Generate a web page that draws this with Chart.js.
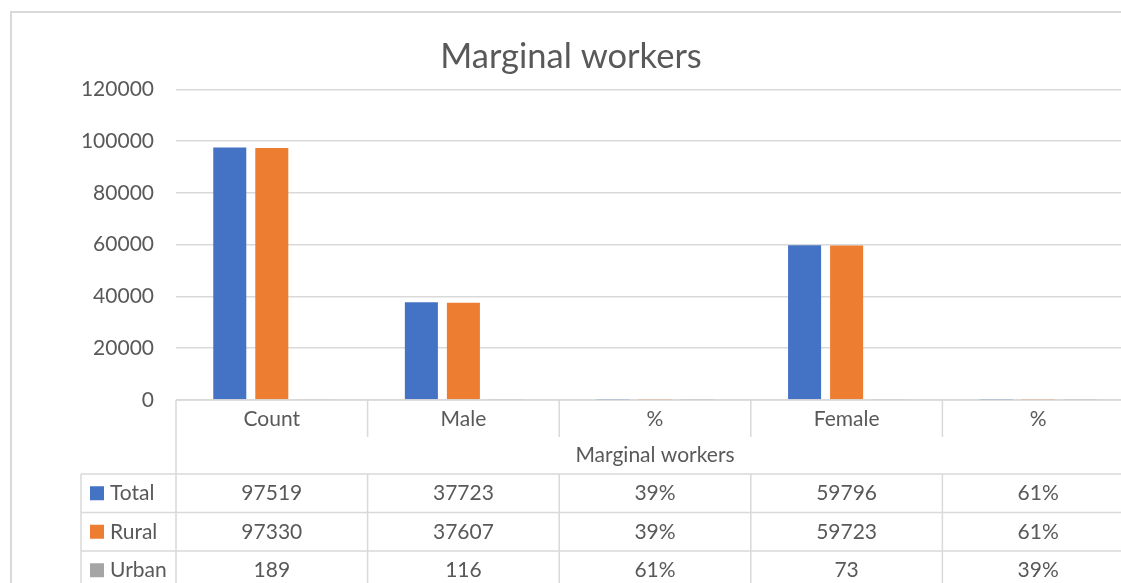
<!DOCTYPE html>
<html>
<head>
<meta charset="utf-8">
<script src="https://cdn.jsdelivr.net/npm/chart.js@4"></script>
<style>
    body { margin: 0; overflow: hidden; background: #ffffff; }
    #wrap { position: absolute; left: 0; top: 0; width: 1150px; height: 600px; }
</style>
</head>
<body>
<div id="wrap">
    <canvas id="canvas_marginal" width="1150" height="600"></canvas>
</div>
<script>
const categorias = ['Count', 'Male', '%', 'Female', '%'];
const tituloGrupo = 'Marginal workers';
const nomesSeries = ['Total', 'Rural', 'Urban'];
const valoresTotal = [97519, 37723, 0.39, 59796, 0.61];
const valoresRural = [97330, 37607, 0.39, 59723, 0.61];
const valoresUrban = [189, 116, 0.61, 73, 0.39];
const coresSeries = ['#4472C4', '#ED7D31', '#A5A5A5'];
const yMin = 0;
const yMax = 120000;
const yPasso = 20000;

const fonte = 'Lato, "Open Sans", sans-serif';
const corTexto = '#595959';
const corLinha = '#d9d9d9';

const chartMarginal = document.getElementById('canvas_marginal');

// borda externa do grafico (o lado direito fica fora da janela)
const pluginBorda = {
    id: 'borda',
    beforeDraw(chart) {
        const ctx = chart.ctx;
        ctx.save();
        ctx.strokeStyle = corLinha;
        ctx.lineWidth = 2;
        ctx.strokeRect(11, 12, 1128, 700);
        ctx.restore();
    }
};

// tabela de dados embaixo do eixo x, como no Excel
const pluginTabela = {
    id: 'tabela',
    afterDatasetsDraw(chart) {
        // no Excel o eixo horizontal fica por cima das barras
        const ctx = chart.ctx;
        const area = chart.chartArea;
        const y0 = chart.scales.y.getPixelForValue(0);
        ctx.save();
        ctx.strokeStyle = corLinha;
        ctx.lineWidth = 1.5;
        ctx.beginPath();
        ctx.moveTo(area.left, y0);
        ctx.lineTo(area.right, y0);
        ctx.stroke();
        ctx.restore();
    },
    afterDraw(chart) {
        const ctx = chart.ctx;
        const area = chart.chartArea;
        const larguraCat = (area.right - area.left) / categorias.length;
        const linhas = [valoresTotal, valoresRural, valoresUrban];
        const topoTabela = 474;
        const alturaLinha = 38.5;
        const esquerdaTabela = 81;
        const fundo = 700;

        ctx.save();
        ctx.strokeStyle = corLinha;
        ctx.lineWidth = 1.5;

        // divisorias das categorias
        for (let i = 0; i <= categorias.length; i++) {
            let x = area.left + i * larguraCat;
            ctx.beginPath();
            if (i == 0) {
                ctx.moveTo(x, area.bottom);
                ctx.lineTo(x, fundo);
            } else {
                ctx.moveTo(x, area.bottom);
                ctx.lineTo(x, area.bottom + 37);
                ctx.moveTo(x, topoTabela);
                ctx.lineTo(x, fundo);
            }
            ctx.stroke();
        }

        // linhas horizontais da tabela
        for (let r = 0; r <= linhas.length; r++) {
            let y = topoTabela + r * alturaLinha;
            ctx.beginPath();
            ctx.moveTo(esquerdaTabela, y);
            ctx.lineTo(area.right, y);
            ctx.stroke();
        }
        ctx.beginPath();
        ctx.moveTo(esquerdaTabela, topoTabela);
        ctx.lineTo(esquerdaTabela, fundo);
        ctx.stroke();

        ctx.fillStyle = corTexto;
        ctx.font = '21px ' + fonte;
        ctx.textAlign = 'center';
        ctx.textBaseline = 'middle';

        for (let i = 0; i < categorias.length; i++) {
            let cx = area.left + (i + 0.5) * larguraCat;
            ctx.fillText(categorias[i], cx, area.bottom + 19);
        }
        ctx.fillText(tituloGrupo, (area.left + area.right) / 2, 455);

        for (let r = 0; r < linhas.length; r++) {
            let cy = topoTabela + (r + 0.5) * alturaLinha;
            ctx.fillStyle = coresSeries[r];
            ctx.fillRect(90, cy - 7, 14, 14);
            ctx.fillStyle = corTexto;
            ctx.textAlign = 'left';
            ctx.fillText(nomesSeries[r], 110, cy);
            ctx.textAlign = 'center';
            for (let i = 0; i < categorias.length; i++) {
                let v = linhas[r][i];
                let texto = categorias[i] == '%' ? Math.round(v * 100) + '%' : String(v);
                ctx.fillText(texto, area.left + (i + 0.5) * larguraCat, cy);
            }
        }
        ctx.restore();
    }
};

const defaultOptions = {
    responsive: false,
    animation: false,
    layout: {
        padding: { left: 8, right: 16, top: 0, bottom: 200 },
    },
    datasets: {
        bar: {
            categoryPercentage: 0.658,
            barPercentage: 0.786,
        }
    },
    scales: {
        x: {
            display: false,
        },
        y: {
            min: yMin,
            max: yMax,
            ticks: {
                stepSize: yPasso,
                color: corTexto,
                font: { family: fonte, size: 21 },
                padding: 22,
                callback: (valor) => String(valor),
            },
            grid: {
                color: corLinha,
                lineWidth: 1.5,
                drawTicks: false,
            },
            border: { display: false },
            afterFit(scale) {
                scale.width = 168;
            },
        },
    },
    plugins: {
        legend: { display: false },
        tooltip: { enabled: false },
        title: {
            display: true,
            text: 'Marginal workers',
            color: corTexto,
            font: { family: fonte, size: 34.5, weight: 'normal' },
            padding: { top: 36, bottom: 12 },
        },
    },
};

new Chart(chartMarginal, {
    type: 'bar',
    data: {
        labels: categorias,
        datasets: [
            { label: nomesSeries[0], data: valoresTotal, backgroundColor: coresSeries[0] },
            { label: nomesSeries[1], data: valoresRural, backgroundColor: coresSeries[1] },
            { label: nomesSeries[2], data: valoresUrban, backgroundColor: coresSeries[2] },
        ],
    },
    options: defaultOptions,
    plugins: [pluginBorda, pluginTabela],
});
</script>
</body>
</html>
